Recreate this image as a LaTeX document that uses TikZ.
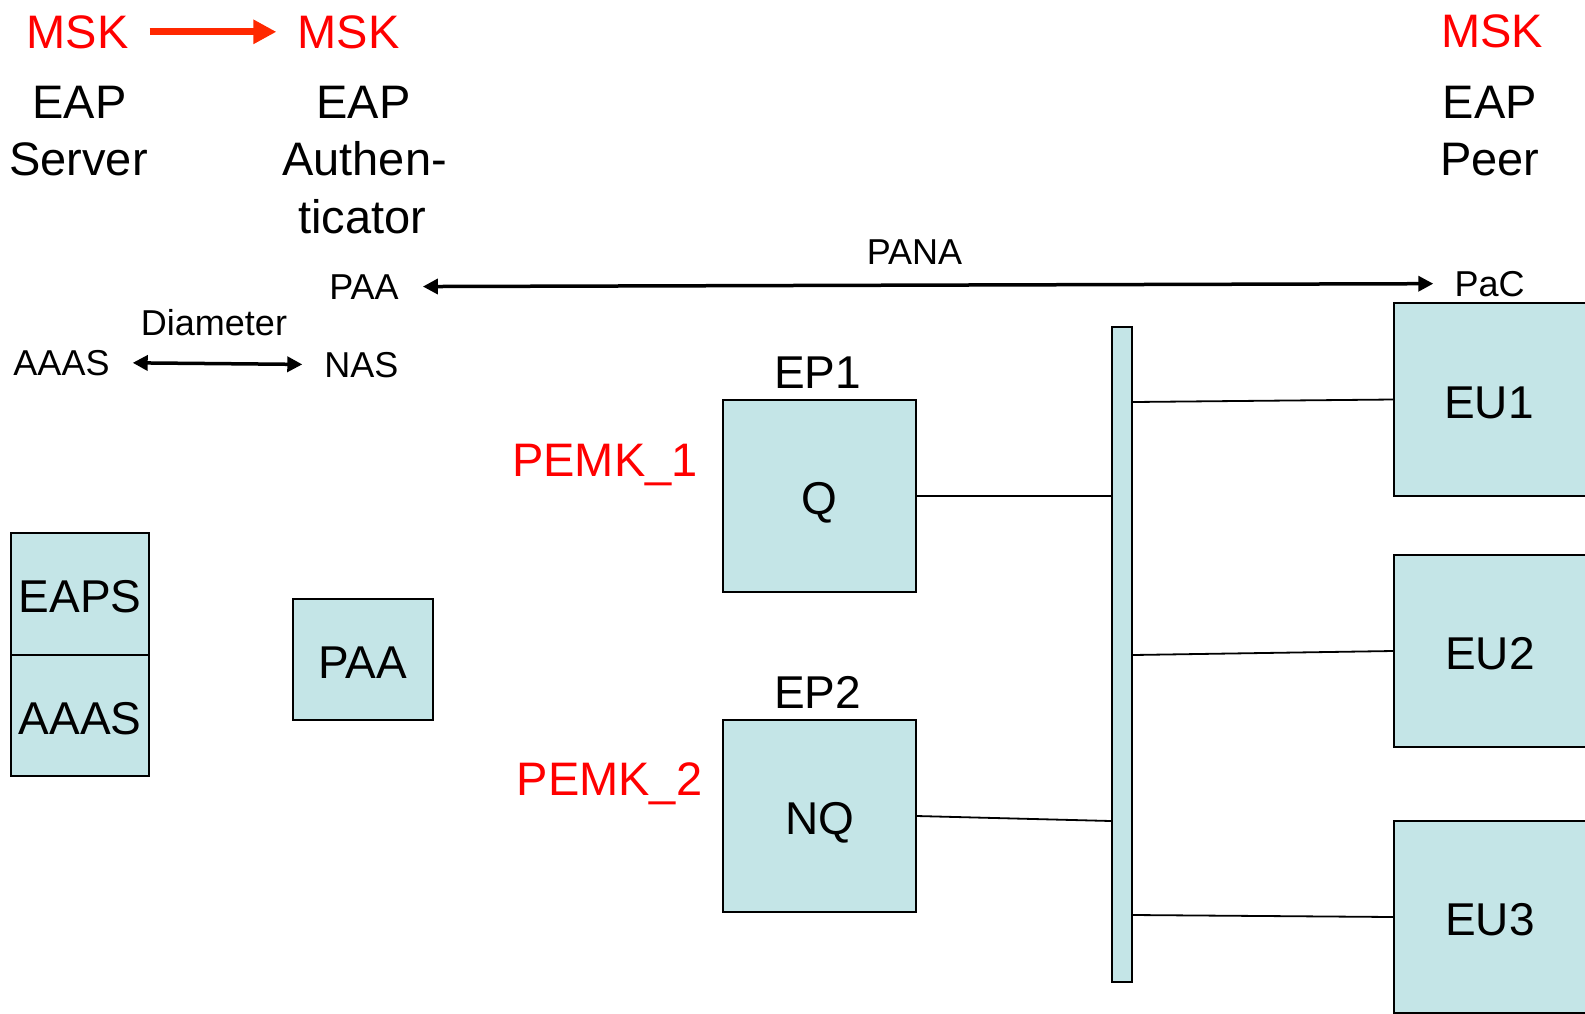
\documentclass[tikz,border=0pt]{standalone}
\usepackage{fontspec}
\setmainfont{Liberation Sans}
\usetikzlibrary{arrows.meta}
\definecolor{boxc}{RGB}{196,229,231}
\definecolor{mskred}{RGB}{255,0,0}
\definecolor{arrred}{RGB}{255,40,0}
\begin{document}
\begin{tikzpicture}[x=1pt,y=-1pt,
  hdr/.style={font=\fontsize{47}{56}\selectfont, inner sep=0pt, anchor=base},
  msk/.style={hdr, text=mskred},
  sml/.style={font=\fontsize{36}{43}\selectfont, inner sep=0pt, anchor=base},
  big/.style={font=\fontsize{46}{55}\selectfont, inner sep=0pt, anchor=base},
  pemk/.style={font=\fontsize{47}{56}\selectfont, inner sep=0pt, anchor=base, text=mskred},
  boxs/.style={draw=black, line width=1.8pt, fill=boxc, inner sep=0pt, text height=37pt, text depth=0pt, font=\fontsize{46}{55}\selectfont},
  link/.style={draw=black, line width=1.8pt},
  dbl/.style={line width=3.5pt, {Triangle[length=15pt,width=15pt]}-{Triangle[length=15pt,width=15pt]}},
  redarr/.style={line width=7pt, draw=arrred, -{Triangle[length=23pt,width=23pt]}},
]
\useasboundingbox (0,0) rectangle (1585,1013);
\clip (0,0) rectangle (1585,1013);

% MSK labels
\node[msk] (msk1) at (77.5,48) {MSK};
\node[msk] (msk2) at (348.5,48) {MSK};
\node[msk] (msk3) at (1492,47) {MSK};
\draw[redarr, shorten <=21pt, shorten >=21pt] (msk1.east) -- (msk2.west);

% headers
\node[hdr] (srv1) at (79.5,118) {EAP};
\node[hdr] (srv2) at (78.5,175) {Server};
\node[hdr] (aut1) at (363.5,118) {EAP};
\node[hdr] (aut2) at (364.5,175) {Authen-};
\node[hdr] (aut3) at (362,233) {ticator};
\node[hdr] (peer1) at (1490,118) {EAP};
\node[hdr] (peer2) at (1490,175) {Peer};

% small labels
\node[sml] (paat) at (364,299) {PAA};
\node[sml] (pact) at (1489.5,296) {PaC};
\node[sml] (pana) at (914.5,264) {PANA};
\node[sml] (diam) at (214,335) {Diameter};
\node[sml] (aaast) at (61.5,375) {AAAS};
\node[sml] (nast) at (361.5,377) {NAS};

\draw[dbl, shorten <=23pt, shorten >=22pt] (aaast.east) -- (nast.west);
\draw[dbl, shorten <=24pt, shorten >=21pt] (paat.east) -- (pact.west);

% left boxes
\node[boxs, minimum width=138pt, minimum height=122pt] (eaps) at (80,594) {EAPS};
\node[boxs, minimum width=138pt, minimum height=121pt] (aaasb) at (80,715.5) {AAAS};
\node[boxs, minimum width=140pt, minimum height=121pt] (paab) at (363,659.5) {PAA};

% enforcement points
\node[big] (ep1l) at (817.5,388) {EP1};
\node[big] (ep2l) at (817.5,708) {EP2};
\node[pemk] (pemk1) at (605,476) {PEMK\_1};
\node[pemk] (pemk2) at (609.5,795) {PEMK\_2};
\node[boxs, minimum width=193pt, minimum height=192pt] (ep1) at (819.5,496) {Q};
\node[boxs, minimum width=193pt, minimum height=192pt] (ep2) at (819.5,816) {NQ};

% bar
\node[boxs, minimum width=20pt, minimum height=655pt] (bar) at (1122,654.5) {};

% end users
\node[boxs, minimum width=226pt, minimum height=193pt] (eu1) at (1507,399.5) {EU1\hspace*{36pt}};
\node[boxs, minimum width=226pt, minimum height=192pt] (eu2) at (1507,651) {EU2\hspace*{34pt}};
\node[boxs, minimum width=226pt, minimum height=192pt] (eu3) at (1507,917) {EU3\hspace*{34pt}};

% links
\draw[link] (ep1.east) -- (bar.west |- ep1.east);
\draw[link] (ep2.east) -- ([yshift=-5pt]bar.west |- ep2.east);
\draw[link] ([yshift=-2.5pt]bar.east |- eu1.west) -- (eu1.west);
\draw[link] ([yshift=-4pt]bar.east |- eu2.west) -- (eu2.west);
\draw[link] ([yshift=2pt]bar.east |- eu3.west) -- (eu3.west);
\end{tikzpicture}
\end{document}
